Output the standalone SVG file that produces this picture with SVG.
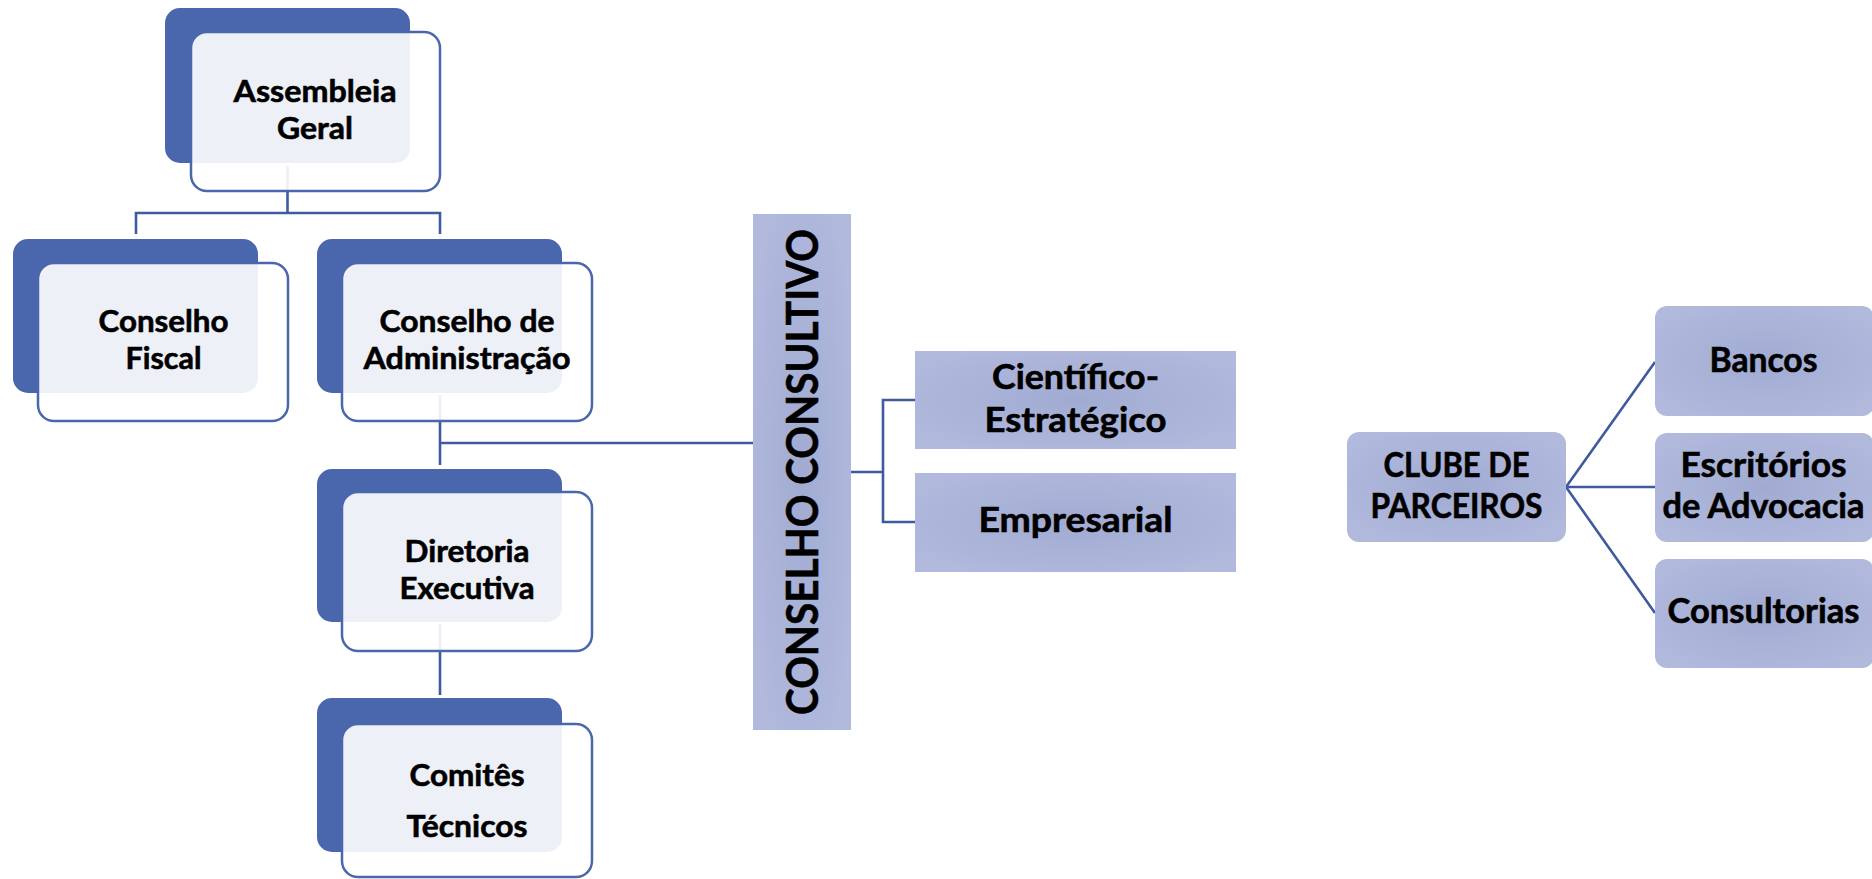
<svg xmlns="http://www.w3.org/2000/svg" width="1872" height="879" viewBox="0 0 1872 879">
<defs>
<radialGradient id="rg" cx="0.5" cy="0.5" r="0.6">
<stop offset="0" stop-color="#A1AAD1"/>
<stop offset="1" stop-color="#B1BADD"/>
</radialGradient>
<style>
.dk{fill:#4A67AD}
.fr{fill:#FFFFFF;fill-opacity:0.9;stroke:#4A67AD;stroke-width:2.5}
.lb{fill:url(#rg)}
.cn{fill:none;stroke:#3F5B9E;stroke-width:2.6}
.t{font-family:Lato,"Open Sans","Liberation Sans",sans-serif;font-weight:700;fill:#000;stroke:#000;stroke-width:0.6;text-anchor:middle}
.s1{font-size:31px}
.s2{font-size:34px}
.s3{font-size:34.5px}
.s4{font-size:44px}
</style>
</defs>
<rect width="1872" height="879" fill="#FFFFFF"/>
<g id="connectors">
<path class="cn" d="M287.5 166 V213 M136 234 V213 H440 V234"/>
<path class="cn" d="M440 395 V465 M440 443 H753"/>
<path class="cn" d="M440 624 V695"/>
<path class="cn" d="M851 472 H883 M915 400 H883 V522 H915"/>
<path class="cn" d="M1566 487 L1655 362 M1566 487 H1655 M1566 487 L1655 613"/>
</g>
<g id="assembleia">
<rect class="dk" x="165" y="8" width="245" height="155" rx="15"/>
<rect class="fr" x="191" y="32" width="249" height="159" rx="16"/>
<text class="t s1" x="315" y="102" textLength="163" lengthAdjust="spacingAndGlyphs">Assembleia</text>
<text class="t s1" x="315" y="139" textLength="76" lengthAdjust="spacingAndGlyphs">Geral</text>
</g>
<g id="conselho-fiscal">
<rect class="dk" x="13" y="239" width="245" height="154" rx="15"/>
<rect class="fr" x="38" y="263" width="250" height="158" rx="16"/>
<text class="t s1" x="163.5" y="332" textLength="130" lengthAdjust="spacingAndGlyphs">Conselho</text>
<text class="t s1" x="163.5" y="369" textLength="76" lengthAdjust="spacingAndGlyphs">Fiscal</text>
</g>
<g id="conselho-administracao">
<rect class="dk" x="317" y="239" width="245" height="154" rx="15"/>
<rect class="fr" x="342" y="263" width="250" height="158" rx="16"/>
<text class="t s1" x="467" y="332" textLength="175" lengthAdjust="spacingAndGlyphs">Conselho de</text>
<text class="t s1" x="467" y="369" textLength="207" lengthAdjust="spacingAndGlyphs">Administração</text>
</g>
<g id="diretoria-executiva">
<rect class="dk" x="317" y="469" width="245" height="153" rx="15"/>
<rect class="fr" x="342" y="492" width="250" height="159" rx="16"/>
<text class="t s1" x="467" y="562" textLength="125" lengthAdjust="spacingAndGlyphs">Diretoria</text>
<text class="t s1" x="467" y="599" textLength="135" lengthAdjust="spacingAndGlyphs">Executiva</text>
</g>
<g id="comites-tecnicos">
<rect class="dk" x="317" y="698" width="245" height="154" rx="15"/>
<rect class="fr" x="342" y="724" width="250" height="153" rx="16"/>
<text class="t s1" x="467" y="786" textLength="115" lengthAdjust="spacingAndGlyphs">Comitês</text>
<text class="t s1" x="467" y="837" textLength="121" lengthAdjust="spacingAndGlyphs">Técnicos</text>
</g>
<g id="conselho-consultivo">
<rect class="lb" x="753" y="214" width="98" height="516"/>
<text class="t s4" transform="translate(818 472) rotate(-90)" x="0" y="0" textLength="486" lengthAdjust="spacingAndGlyphs">CONSELHO CONSULTIVO</text>
</g>
<g id="cientifico-estrategico">
<rect class="lb" x="915" y="351" width="321" height="98"/>
<text class="t s3" x="1075.5" y="389" textLength="167" lengthAdjust="spacingAndGlyphs">Científico-</text>
<text class="t s3" x="1075.5" y="432" textLength="182" lengthAdjust="spacingAndGlyphs">Estratégico</text>
</g>
<g id="empresarial">
<rect class="lb" x="915" y="473" width="321" height="99"/>
<text class="t s3" x="1075.5" y="532" textLength="194" lengthAdjust="spacingAndGlyphs">Empresarial</text>
</g>
<g id="clube-de-parceiros">
<rect class="lb" x="1347" y="432" width="219" height="110" rx="12"/>
<text class="t s2" x="1456.5" y="477" textLength="146" lengthAdjust="spacingAndGlyphs">CLUBE DE</text>
<text class="t s2" x="1456.5" y="518" textLength="172" lengthAdjust="spacingAndGlyphs">PARCEIROS</text>
</g>
<g id="bancos">
<rect class="lb" x="1655" y="306" width="219" height="110" rx="12"/>
<text class="t s2" x="1763.5" y="372" textLength="108" lengthAdjust="spacingAndGlyphs">Bancos</text>
</g>
<g id="escritorios-advocacia">
<rect class="lb" x="1655" y="433" width="219" height="109" rx="12"/>
<text class="t s2" x="1763.5" y="477" textLength="166" lengthAdjust="spacingAndGlyphs">Escritórios</text>
<text class="t s2" x="1763.5" y="518" textLength="202" lengthAdjust="spacingAndGlyphs">de Advocacia</text>
</g>
<g id="consultorias">
<rect class="lb" x="1655" y="559" width="219" height="109" rx="12"/>
<text class="t s2" x="1763.5" y="623" textLength="192" lengthAdjust="spacingAndGlyphs">Consultorias</text>
</g>
</svg>
